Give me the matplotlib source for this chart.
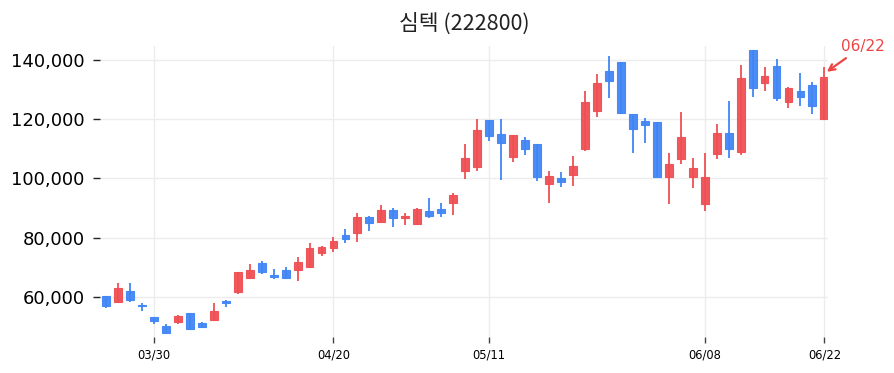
import matplotlib
matplotlib.use("Agg")
import matplotlib.pyplot as plt
from matplotlib.ticker import FuncFormatter

plt.rcParams['font.family'] = ['Noto Sans CJK KR', 'DejaVu Sans']

TITLE = "심텍 (222800)"

# OHLC per trading day (index 0 .. 60)
opens = [60400, 58400, 62100, 57300, 53200, 50300, 51700, 54600, 51300, 52200,
         58500, 61600, 66500, 71600, 67400, 69100, 69100, 70000, 74900, 76600,
         80900, 81500, 87100, 85400, 89300, 86800, 84500, 89000, 89700, 91600,
         102600, 103900, 119700, 115000, 107300, 112900, 111600, 98000, 100200, 101100,
         109800, 122800, 136300, 139400, 121700, 119400, 119100, 100600, 106400, 100400,
         91400, 108200, 115400, 108800, 143300, 132100, 137900, 125900, 129500, 131500,
         120000]
highs = [60500, 64600, 64600, 58100, 53300, 51000, 53900, 54700, 51400, 58100,
         59000, 68600, 71000, 72100, 69300, 70000, 73600, 78100, 77300, 80100,
         82800, 88200, 87200, 91000, 89900, 88200, 90200, 93300, 91800, 95000,
         111500, 119900, 119800, 119900, 114700, 114100, 111700, 102500, 102100, 107600,
         129600, 135200, 141300, 139400, 121800, 120300, 119200, 108700, 122300, 106800,
         108700, 118300, 126100, 138200, 143400, 137700, 140200, 130900, 135600, 132600,
         137500]
lows = [56200, 58200, 58400, 55300, 50800, 47700, 50800, 48800, 49400, 52200,
        56700, 61000, 66300, 67700, 66000, 66000, 65400, 69900, 73800, 75100,
        78100, 78600, 82300, 85300, 83700, 84300, 84400, 86500, 87100, 87700,
        99700, 102500, 112700, 99500, 105400, 107800, 99100, 91600, 97000, 97500,
        109300, 120800, 127000, 121700, 108500, 111800, 100500, 91400, 104800, 96700,
        89100, 106400, 106800, 107900, 127600, 129500, 126100, 123800, 124400, 121600,
        120000]
closes = [57100, 63100, 59000, 56800, 51900, 47800, 53700, 49200, 50000, 55300,
          58100, 68500, 69100, 68500, 66800, 66300, 71900, 76400, 76800, 78900,
          79600, 87100, 85100, 89300, 86500, 87100, 89700, 87400, 88400, 94400,
          106800, 116300, 114400, 111800, 114600, 109900, 100600, 100800, 98900, 104200,
          125900, 132300, 133000, 122200, 116600, 118200, 100600, 104900, 113900, 103600,
          100600, 115500, 109900, 133800, 130400, 134500, 127000, 130400, 127600, 124500,
          134300]

tick_pos = [4, 19, 32, 50, 60]
tick_labels = ["03/30", "04/20", "05/11", "06/08", "06/22"]
last_label = "06/22"

UP = "#ef5054"
DOWN = "#4286f5"

fig = plt.figure(figsize=(8.95, 3.73), dpi=100)
ax = fig.add_axes([100 / 895, 1 - 337 / 373, 728 / 895, 291 / 373])

n = len(opens)
w = 0.66
for i in range(n):
    o, h, l, c = opens[i], highs[i], lows[i], closes[i]
    col = UP if c >= o else DOWN
    ax.vlines(i, l, h, color=col, linewidth=1.3, zorder=2)
    bottom = min(o, c)
    height = max(abs(c - o), 450)
    if abs(c - o) < 450:
        bottom = (o + c) / 2 - 225
    ax.bar(i, height, w, bottom=bottom, color=col, edgecolor=col,
           linewidth=0.8, alpha=0.95, zorder=3)

ax.set_xlim(-0.5, 60.3)
ax.set_ylim(46500, 144700)
ax.set_yticks([60000, 80000, 100000, 120000, 140000])
ax.yaxis.set_major_formatter(FuncFormatter(lambda v, p: f"{int(v):,}"))
ax.set_xticks(tick_pos)
ax.set_xticklabels(tick_labels, family=['Liberation Sans Narrow', 'DejaVu Sans'],
                   fontsize=8.3)
for lab in ax.get_yticklabels():
    lab.set_family('DejaVu Sans')
    lab.set_fontsize(13)
ax.tick_params(axis='y', length=5, width=1, color='#222222', pad=6)
ax.tick_params(axis='x', length=4, width=1, color='#444444', pad=4)
ax.grid(True, color='#ececec', linewidth=1, zorder=0)
ax.set_axisbelow(True)
for s in ax.spines.values():
    s.set_visible(False)

ax.set_title(TITLE, fontsize=15.5, pad=12, color='#222222')

ax.annotate(last_label, xy=(60.2, 136000), xytext=(14, 18),
            textcoords='offset pixels', color='#ef4444', fontsize=11,
            family='DejaVu Sans', ha='left', va='bottom',
            arrowprops=dict(arrowstyle='->', color='#ef4444', lw=1.6,
                            shrinkA=2, shrinkB=0),
            annotation_clip=False)

fig.savefig("out.png", dpi=100)
